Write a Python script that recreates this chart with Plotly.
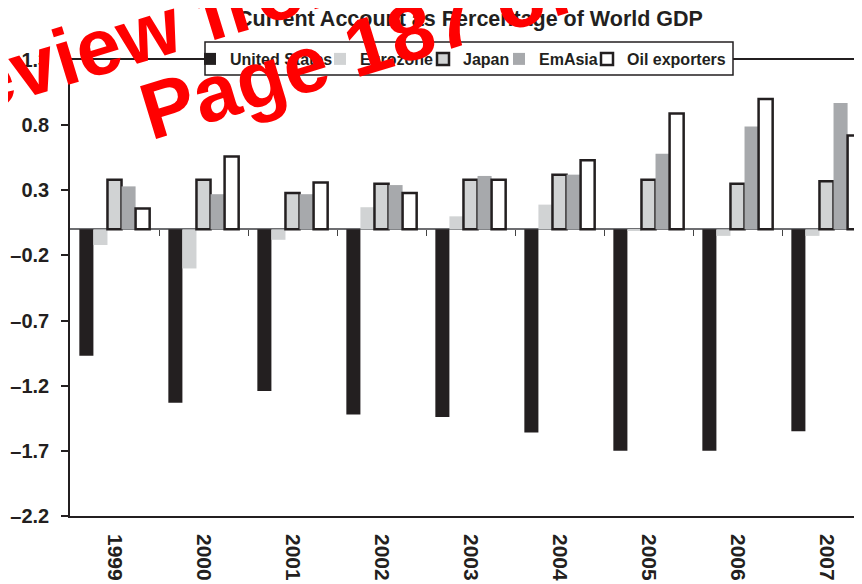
import plotly.graph_objects as go

years = ["1999", "2000", "2001", "2002", "2003", "2004", "2005", "2006", "2007"]
united_states = [-0.97, -1.33, -1.24, -1.42, -1.44, -1.56, -1.70, -1.70, -1.55]
eurozone = [-0.12, -0.30, -0.08, 0.17, 0.10, 0.19, -0.01, -0.05, -0.05]
japan = [0.38, 0.38, 0.28, 0.35, 0.38, 0.42, 0.38, 0.35, 0.37]
emasia = [0.33, 0.27, 0.27, 0.34, 0.41, 0.42, 0.58, 0.79, 0.97]
oil_exporters = [0.16, 0.56, 0.36, 0.28, 0.38, 0.53, 0.89, 1.00, 0.72]
y_ticks = [1.3, 0.8, 0.3, -0.2, -0.7, -1.2, -1.7, -2.2]
y_tick_labels = ["1.3", "0.8", "0.3", "–0.2", "–0.7", "–1.2", "–1.7", "–2.2"]

# page (screenshot) geometry; the browser body adds an 8px margin
OFF = 8
PAGE_W, PAGE_H = 862, 584
W, H = PAGE_W - OFF, PAGE_H - OFF
PLOT_L, PLOT_T, PLOT_B = 70, 60, 516          # page pixels
ML, MT = PLOT_L - OFF, PLOT_T - OFF
MB = H - (PLOT_B - OFF)
MR = 0
FONT = "Liberation Sans, Arial, sans-serif"
INK = "#231f20"

def px(x):  # page pixel -> paper x
    return (x - OFF - ML) / (W - ML - MR)

def py(y):  # page pixel -> paper y
    return (H - MB - (y - OFF)) / (H - MT - MB)

series = [
    ("United States", united_states, INK, 0, INK),
    ("Eurozone", eurozone, "#d1d3d4", 0, "#d1d3d4"),
    ("Japan", japan, "#d1d3d4", 2.5, INK),
    ("EmAsia", emasia, "#a7a9ac", 0, "#a7a9ac"),
    ("Oil exporters", oil_exporters, "#ffffff", 2.5, INK),
]
# page x where each legend label's text starts
legend_text_x = [230, 360, 463, 539, 627]

fig = go.Figure()
legend_names = ["legend", "legend2", "legend3", "legend4", "legend5"]
for (name, vals, fill, lw, lc), lg in zip(series, legend_names):
    fig.add_trace(go.Bar(
        x=years, y=vals, name=name, legend=lg,
        marker=dict(color=fill, line=dict(width=lw, color=lc)),
    ))

n = len(years)
per_cat = 89.0
xmax = -0.5 + (W - ML - MR) / per_cat

legend_font = dict(size=16, family=FONT, color=INK, weight="bold")
legends = {}
for lg, tx in zip(legend_names, legend_text_x):
    legends[lg] = dict(
        orientation="h", x=px(tx - 40), xanchor="left", y=py(42), yanchor="top",
        bgcolor="rgba(0,0,0,0)", borderwidth=0, font=legend_font, itemwidth=30,
    )

fig.update_layout(
    width=W, height=H,
    margin=dict(l=ML, r=MR, t=MT, b=MB, pad=0),
    paper_bgcolor="white", plot_bgcolor="white",
    barmode="group", bargap=0.21, bargroupgap=0,
    font=dict(family=FONT, color=INK, weight="bold"),
    title=dict(
        text="Current Account as Percentage of World GDP",
        xref="paper", x=px(470), xanchor="center",
        yref="container", y=1 - (18 - OFF) / H, yanchor="middle",
        font=dict(size=21.5, family=FONT, color=INK, weight="bold"),
    ),
    showlegend=True,
    xaxis=dict(
        type="category", range=[-0.5, xmax],
        showline=True, linecolor=INK, linewidth=1.5, mirror=True,
        ticks="", showgrid=False, zeroline=False,
        tickangle=90, ticklabelstandoff=12,
        tickfont=dict(size=21, family=FONT, color=INK, weight="bold"),
    ),
    xaxis2=dict(
        overlaying="x", anchor="free", position=(0 - y_ticks[-1]) / (y_ticks[0] - y_ticks[-1]),
        range=[-0.5, xmax], showline=False, showgrid=False, zeroline=False,
        tickmode="array", tickvals=[i + 0.5 for i in range(n - 1)],
        ticks="outside", ticklen=6, tickwidth=1.2, tickcolor="#444444",
        showticklabels=False, side="bottom",
    ),
    yaxis=dict(
        range=[y_ticks[-1], y_ticks[0]],
        tickmode="array", tickvals=y_ticks, ticktext=y_tick_labels,
        showline=True, linecolor=INK, linewidth=1.5, mirror=False,
        ticks="outside", ticklen=7, tickwidth=1.5, tickcolor=INK,
        showgrid=False, zeroline=True, zerolinecolor="#6d6e71", zerolinewidth=2,
        ticklabelstandoff=8,
        tickfont=dict(size=20, family=FONT, color=INK, weight="bold"),
    ),
    **legends,
)

# legend frame
fig.add_shape(type="rect", xref="paper", yref="paper",
              x0=px(205), x1=px(733), y0=py(75), y1=py(42),
              fillcolor="white", line=dict(color=INK, width=1.5), layer="above")

# invisible trace so that the zero-line tick axis is drawn
fig.add_trace(go.Scatter(x=[0], y=[0], xaxis="x2", mode="markers",
                         marker=dict(opacity=0), showlegend=False, hoverinfo="skip"))

# red preview watermark
wm_font = dict(size=80, family=FONT, color="#ff0000", weight="bold")
fig.add_annotation(text="Preview from Notesale.co.uk", xref="paper", yref="paper",
                   x=px(410), y=py(-49), xanchor="center", yanchor="middle",
                   textangle=-17, showarrow=False, font=wm_font)
fig.add_annotation(text="Page 187 of 322", xref="paper", yref="paper",
                   x=px(430), y=py(27), xanchor="center", yanchor="middle",
                   textangle=-17, showarrow=False, font=wm_font)

fig.write_html("out.html")
